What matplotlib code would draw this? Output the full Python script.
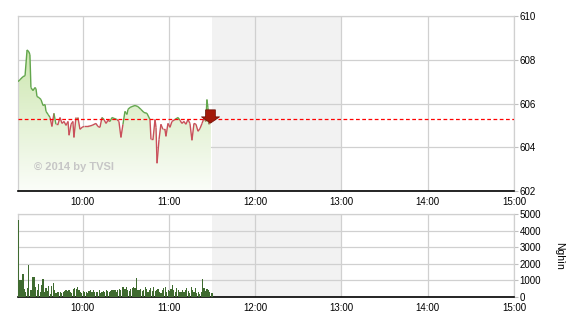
import numpy as np
import matplotlib
matplotlib.use("Agg")
import matplotlib.pyplot as plt
from matplotlib.collections import LineCollection
from matplotlib.path import Path

# minutes since 09:15 and index level
price_t = [0, 1.4, 3.5, 4.9, 6.3, 7.6, 8.3, 9.0, 10.4, 11.8, 12.5, 13.2, 14.6, 16.0,
           17.4, 18.8, 19.5, 20.9, 22.3, 23.6, 25.0, 26.4, 27.8, 29.2, 30.6, 32.0,
           33.4, 34.8, 35.5, 36.9, 38.2, 38.9, 40.3, 41.7, 43.1, 44.5, 45.9, 48.7,
           51.5, 54.2, 55.6, 57.0, 58.4, 59.8, 61.2, 62.6, 64.0, 65.4, 66.8, 68.8,
           70.2, 71.6, 73.0, 74.4, 75.8, 76.5, 77.9, 79.3, 81.4, 83.4, 85.5, 87.6,
           89.7, 91.8, 92.5, 93.9, 95.3, 96.0, 96.7, 98.1, 99.4, 100.8, 102.2, 102.9,
           104.3, 105.7, 107.1, 109.2, 111.3, 112.7, 114.0, 115.4, 116.8, 118.2,
           119.6, 121.0, 122.4, 123.8, 125.2, 126.6, 128.0, 129.3, 130.7, 131.4,
           132.1, 132.8, 134.2]
price_v = [607.00, 607.09, 607.23, 607.27, 608.45, 608.36, 608.23, 606.73, 606.59,
           606.73, 606.68, 606.32, 606.27, 606.18, 605.91, 605.95, 605.64, 605.50,
           605.36, 604.95, 605.55, 605.05, 605.05, 605.36, 605.09, 605.18, 605.00,
           605.18, 604.55, 605.05, 605.18, 604.45, 605.36, 605.36, 604.82, 604.91,
           604.95, 604.95, 605.00, 605.09, 604.95, 604.91, 605.36, 605.27, 605.09,
           605.23, 605.18, 605.36, 605.32, 605.27, 605.18, 604.45, 605.05, 605.64,
           605.50, 605.73, 605.82, 605.86, 605.91, 605.86, 605.73, 605.59, 605.55,
           605.27, 604.36, 604.36, 605.27, 604.91, 603.27, 604.36, 605.05, 604.82,
           604.82, 604.50, 605.09, 604.91, 605.18, 605.27, 605.36, 605.23, 605.09,
           605.18, 605.05, 605.27, 605.09, 604.32, 605.09, 605.05, 604.73, 604.86,
           605.09, 605.32, 605.18, 606.18, 605.82, 605.05, 605.36]
ref_level = 605.27

# volume per minute (thousand shares)
volume = [4640, 1050, 1050, 1370, 500, 300, 520, 1930, 450, 450,
          1200, 1200, 620, 400, 780, 300, 700, 1100, 300, 560,
          380, 650, 200, 650, 820, 400, 250, 300, 300, 300,
          250, 300, 350, 420, 380, 450, 300, 250, 500, 560,
          500, 600, 420, 300, 250, 350, 300, 280, 250, 350,
          400, 300, 450, 300, 280, 300, 400, 250, 300, 380,
          300, 420, 350, 300, 380, 420, 450, 400, 300, 450,
          500, 420, 580, 600, 500, 620, 420, 350, 500, 520,
          600, 560, 1140, 450, 420, 500, 350, 400, 600, 480,
          300, 450, 520, 380, 620, 350, 420, 500, 300, 250,
          400, 520, 620, 300, 400, 350, 500, 720, 420, 300,
          550, 420, 300, 300, 450, 300, 400, 520, 380, 250,
          600, 420, 300, 550, 250, 300, 200, 300, 1080, 520,
          350, 500, 400, 300, 250, 250]

hour_ticks = [45, 105, 165, 225, 285, 345]
hour_labels = ["10:00", "11:00", "12:00", "13:00", "14:00", "15:00"]
price_ticks = [602, 604, 606, 608, 610]
vol_ticks = [0, 1000, 2000, 3000, 4000, 5000]
break_start, break_end = 135, 225

GREEN = "#62a64c"
RED = "#c9505a"
GRID = "#d0d0d0"

plt.rcParams["font.family"] = ["Liberation Sans", "DejaVu Sans"]
fig = plt.figure(figsize=(5.7, 3.2), dpi=100)
ax = fig.add_axes([18 / 570, 1 - 191 / 320, 496 / 570, 175 / 320])
axv = fig.add_axes([18 / 570, 1 - 297 / 320, 496 / 570, 83 / 320])


def style(a, ticks, ylim):
    a.set_xlim(0, 345)
    a.set_ylim(*ylim)
    a.set_xticks(hour_ticks)
    a.set_xticklabels(hour_labels)
    a.set_yticks(ticks)
    a.yaxis.tick_right()
    a.tick_params(axis="y", length=3, width=0.8, color="#c0c0c0", pad=1, labelsize=7)
    a.tick_params(axis="x", length=0, pad=4, labelsize=7)
    a.grid(True, color=GRID, lw=0.9)
    a.set_axisbelow(True)
    a.axvspan(break_start, break_end, color="#f2f2f2", zorder=0, lw=0)
    for s in ("left", "top", "right"):
        a.spines[s].set_color(GRID)
        a.spines[s].set_linewidth(0.9)
    a.spines["bottom"].set_color("black")
    a.spines["bottom"].set_linewidth(1.2)


style(ax, price_ticks, (602, 610))
style(axv, vol_ticks, (0, 5000))

# gradient fill under the index line
t = np.array(price_t)
p = np.array(price_v)
poly_x = np.concatenate([t, [t[-1], t[0]]])
poly_y = np.concatenate([p, [602, 602]])
fill = ax.fill(poly_x, poly_y, facecolor="none", edgecolor="none")[0]
grad = np.linspace(0, 1, 256).reshape(-1, 1)
cmap = matplotlib.colors.LinearSegmentedColormap.from_list("g", ["#fbfdf9", "#cbe6ad"])
img = ax.imshow(grad, extent=[0, t[-1], 602, 608.6], origin="lower", aspect="auto",
                cmap=cmap, zorder=1)
img.set_clip_path(fill)
ax.set_xlim(0, 345)
ax.set_ylim(602, 610)

# line coloured green above / red below the reference
pts = np.column_stack([t, p])
segs = np.stack([pts[:-1], pts[1:]], axis=1)
mid = (p[:-1] + p[1:]) / 2
cols = [GREEN if m >= ref_level else RED for m in mid]
ax.add_collection(LineCollection(segs, colors=cols, lw=1.0, zorder=3))

ax.axhline(ref_level, color="#ff0000", lw=0.9, ls=(0, (3, 2)), zorder=4)

# down arrow at last point
arrow = Path([(-0.27, 0.37), (0.27, 0.37), (0.27, -0.02), (0.5, -0.02), (0, -0.37),
              (-0.5, -0.02), (-0.27, -0.02), (-0.27, 0.37)])
ax.plot(t[-1] - 0.5, 605.42, marker=arrow, ms=13, color="#a3190a",
        mec="#6e0d04", mew=0.5, zorder=5)

ax.text(11, 603.1, "\u00a9 2014 by TVSI", color="#c6c6c6", fontsize=8,
        fontweight="bold", ha="left", va="center", zorder=2)

axv.bar(np.arange(len(volume)), volume, width=0.85, align="edge",
        color="#3f6b30", zorder=3)
axv.text(1.09, 0.5, "Nghìn", transform=axv.transAxes, rotation=-90,
         ha="center", va="center", fontsize=7.5)

fig.savefig("out.png", dpi=100)
